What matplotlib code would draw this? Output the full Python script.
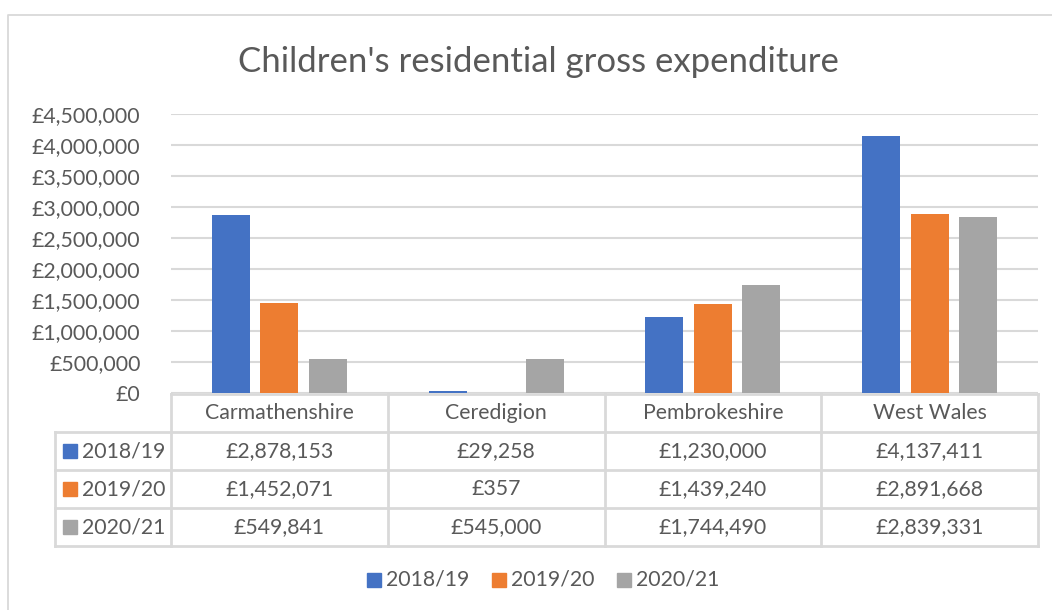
import numpy as np
import matplotlib.pyplot as plt
from matplotlib.patches import Rectangle

# data ==========================================================
areas   = ['Carmathenshire', 'Ceredigion', 'Pembrokeshire', 'West Wales']
years   = ['2018/19', '2019/20', '2020/21']
y2018   = [2878153, 29258, 1230000, 4137411]
y2019   = [1452071, 357, 1439240, 2891668]
y2020   = [549841, 545000, 1744490, 2839331]
colors  = ['#4472C4', '#ED7D31', '#A5A5A5']
yticks  = np.arange(0, 4500001, 500000)

series = [y2018, y2019, y2020]
W, H   = 1052, 610
txt    = '#595959'
grid   = '#D9D9D9'
fs     = 15.3
plt.rcParams['font.family'] = ['Lato', 'DejaVu Sans']

fig = plt.figure(figsize=(W/100, H/100), dpi=100)

# plot area in pixel coordinates
px0, px1, py0, py1 = 171, 1038, 114, 393
ax = fig.add_axes([px0/W, 1 - py1/H, (px1-px0)/W, (py1-py0)/H])
x  = np.arange(len(areas))
bw = 0.175
step = 0.224
for i, s in enumerate(series):
    ax.bar(x + (i-1)*step, s, width=bw, color=colors[i], zorder=3)
ax.set_xlim(-0.5, len(areas)-0.5)
ax.set_ylim(0, 4500000)
ax.set_yticks(yticks)
ax.set_yticklabels([f'£{v:,.0f}' for v in yticks], color=txt, fontsize=fs)
ax.tick_params(axis='y', length=0, pad=22)
ax.set_xticks([])
ax.grid(axis='y', color=grid, lw=1.5, zorder=0)
for sp in ax.spines.values():
    sp.set_visible(False)

# overlay for table, legend, border ============================
ov = fig.add_axes([0, 0, 1, 1], zorder=-1)
ov.set_xlim(0, W)
ov.set_ylim(H, 0)
ov.axis('off')
ov.plot([8, 8, W], [H, 15, 15], color=grid, lw=1.3)
fig.text(538/W, 1 - 62/H, "Children's residential gross expenditure",
         ha='center', va='center', fontsize=25, color=txt)

ov2 = fig.add_axes([0, 0, 1, 1])
ov2.set_xlim(0, W)
ov2.set_ylim(H, 0)
ov2.axis('off')
ov2.patch.set_alpha(0)

cw = (px1 - px0) / len(areas)
rows = [394, 432, 470, 508, 546]
lc = dict(color=grid, lw=2)
# header row
ov2.plot([px0, px1], [rows[0], rows[0]], **lc)
for r in rows[1:]:
    ov2.plot([55, px1], [r, r], **lc)
ov2.plot([55, 55], [rows[1], rows[-1]], **lc)
for j in range(len(areas) + 1):
    xx = px0 + j*cw
    ov2.plot([xx, xx], [rows[0], rows[-1]], **lc)
for j, a in enumerate(areas):
    ov2.text(px0 + (j+0.5)*cw, (rows[0]+rows[1])/2, a, ha='center', va='center',
             fontsize=fs, color=txt)
for i, s in enumerate(series):
    yc = (rows[i+1] + rows[i+2]) / 2
    ov2.add_patch(Rectangle((63, yc-7), 14, 14, color=colors[i]))
    ov2.text(82, yc, years[i], ha='left', va='center', fontsize=fs, color=txt)
    for j, v in enumerate(s):
        ov2.text(px0 + (j+0.5)*cw, yc, f'£{v:,.0f}', ha='center', va='center',
                 fontsize=fs, color=txt)

# legend
lx = [367, 492, 617]
for i, yr in enumerate(years):
    ov2.add_patch(Rectangle((lx[i], 573), 14, 14, color=colors[i]))
    ov2.text(lx[i] + 19, 579, yr, ha='left', va='center', fontsize=fs, color=txt)

fig.savefig('out.png', dpi=100)
